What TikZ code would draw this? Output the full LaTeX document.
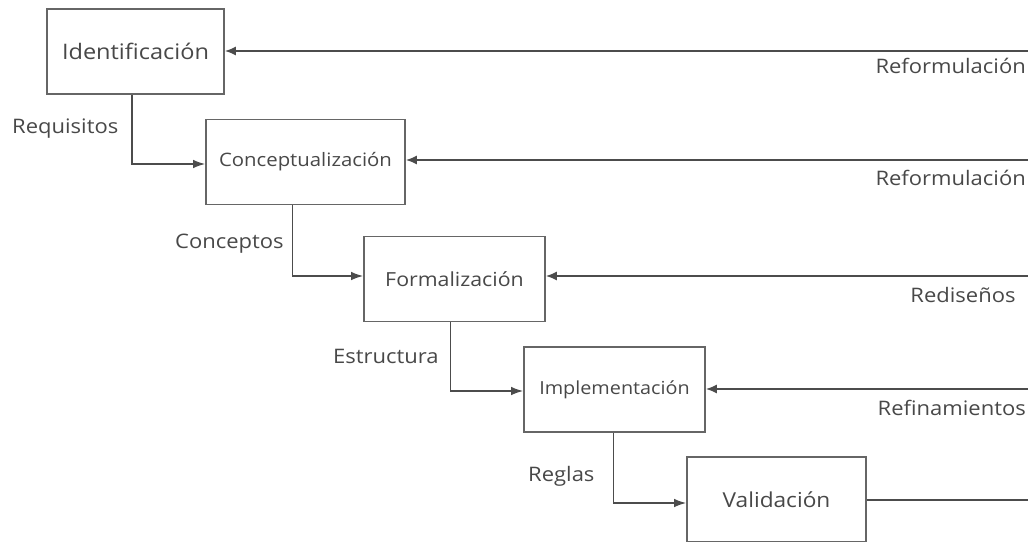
\documentclass[tikz,border=0pt]{standalone}
\usepackage{fontspec}
\setmainfont{Open Sans}[FakeStretch=1.1]
\usetikzlibrary{arrows.meta}
\definecolor{ink}{HTML}{484848}
\definecolor{wire}{HTML}{4C4C4C}
\definecolor{frame}{HTML}{666666}
\tikzset{
  stage/.style={draw=frame, line width=1.6pt, fill=white, minimum width=#1,
                minimum height=85pt, inner sep=0pt, text=ink},
  flow/.style={draw=wire, line width=1.5pt, -{Latex[length=12pt,width=8.5pt]}},
  back/.style={draw=wire, line width=1.8pt, -{Latex[length=11pt,width=9pt]}},
  wireline/.style={draw=wire, line width=1.5pt},
  tag/.style={text=ink, inner sep=0pt, font=\fontsize{20}{24}\selectfont},
}
\begin{document}
\begin{tikzpicture}[x=1pt,y=-1pt]
\useasboundingbox (0,0) rectangle (1028,541);
\clip (0,0) rectangle (1028,541);

% stages of the process
\node[stage=177pt, font=\fontsize{21.4}{24}\selectfont] (ident)  at (135.5,51.5) {Identificación};
\node[stage=199pt, font=\fontsize{18.5}{22}\selectfont] (concep) at (305.5,162)  {Conceptualización};
\node[stage=181pt, font=\fontsize{19.4}{23}\selectfont] (formal) at (454.5,279)  {Formalización};
\node[stage=181pt, font=\fontsize{18}{22}\selectfont]   (implem) at (614.5,389.5){Implementación};
\node[stage=179pt, font=\fontsize{20.6}{24}\selectfont] (valid)  at (776.5,499.5){Validación};

% forward flow between stages
\draw[flow] ([xshift=-3.5pt]ident.south)   |- ([yshift=-2pt]concep.west);
\draw[flow] ([xshift=-12.8pt]concep.south) |- ([yshift=3pt]formal.west);
\draw[flow] ([xshift=-3.8pt]formal.south)  |- ([yshift=-1.5pt]implem.west);
\draw[flow] ([xshift=-1.2pt]implem.south)  |- ([yshift=-3.5pt]valid.west);

% feedback from the right margin
\coordinate (r1) at (1040,51);
\coordinate (r2) at (1040,160);
\coordinate (r3) at (1040,276);
\coordinate (r4) at (1040,389);
\coordinate (out) at (1040,500);
\draw[back] (r1) -- (r1 -| ident.east);
\draw[back] (r2) -- (r2 -| concep.east);
\draw[back] (r3) -- (r3 -| formal.east);
\draw[back] (r4) -- (r4 -| implem.east);
\draw[wireline] (out -| valid.east) -- (out);

% labels of the forward flow
\node[tag, anchor=base west] (lreq) at (12,133)  {Requisitos};
\node[tag, anchor=base west] (lcon) at (175,248) {Conceptos};
\node[tag, anchor=base west] (lest) at (333,363) {Estructura};
\node[tag, anchor=base west] (lreg) at (528,481) {Reglas};

% labels of the feedback
\node[tag, anchor=base east] (lrf1) at (1026,73)  {Reformulación};
\node[tag, anchor=base east] (lrf2) at (1026,185) {Reformulación};
\node[tag, anchor=base]      (lred) at (963,302)  {Rediseños};
\node[tag, anchor=base east] (lref) at (1026,415) {Refinamientos};
\end{tikzpicture}
\end{document}
